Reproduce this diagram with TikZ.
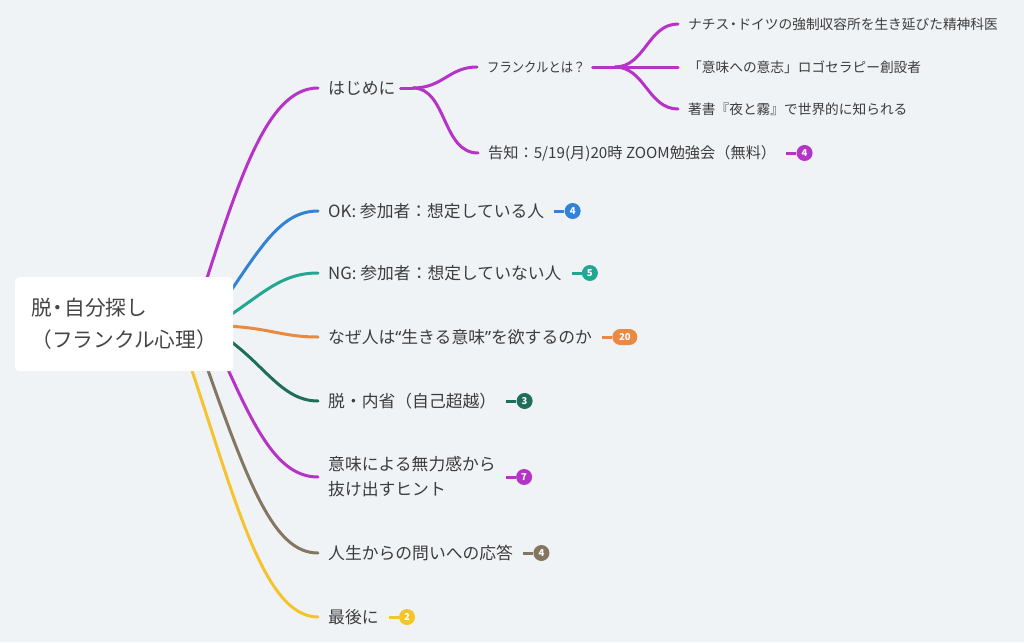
\documentclass[tikz,border=0pt]{standalone}
\usepackage{fontspec}
\setmainfont{Noto Sans CJK JP}
\newfontfamily\latfont{Noto Sans}
\newfontfamily\condfont[FakeStretch=0.9]{Noto Sans CJK JP}
\usetikzlibrary{positioning}
\definecolor{bg}{HTML}{F0F3F6}
\definecolor{txt}{HTML}{3C3C3C}
\definecolor{roottxt}{HTML}{454545}
\definecolor{purp}{HTML}{B633C8}
\definecolor{blu}{HTML}{3283D3}
\definecolor{teal2}{HTML}{22A792}
\definecolor{orng}{HTML}{E98A42}
\definecolor{dgreen}{HTML}{1F6E5C}
\definecolor{brwn}{HTML}{857662}
\definecolor{yell}{HTML}{F3C42E}
\newcommand{\ndot}{\makebox[0.6em]{・}}
\newcommand{\myLq}{{\latfont “}}
\newcommand{\myRq}{{\latfont ”}}
\begin{document}
\begin{tikzpicture}[x=1pt,y=-1pt,
  br/.style={line width=3pt, line cap=round},
  mainlbl/.style={anchor=west, inner xsep=10pt, inner ysep=2pt, font=\fontsize{16.8}{25}\selectfont, text=txt, align=left},
  sublbl/.style={anchor=west, inner xsep=10pt, inner ysep=2pt, font=\fontsize{13.7}{18}\selectfont, text=txt},
  badge/.style={circle, fill=#1, minimum size=16pt, inner sep=0pt, text=white, font=\fontsize{9.5}{9.5}\selectfont\bfseries},
  pill/.style={rectangle, rounded corners=8pt, fill=#1, minimum width=25pt, minimum height=16pt, inner sep=0pt, text=white, font=\fontsize{9.5}{9.5}\selectfont\bfseries},
  blink/.style={line width=3pt}
]
\fill[bg] (0,0) rectangle (1024,642);

% start points of main branches (hidden under root box)
\coordinate (r1) at (200,300);
\coordinate (r2) at (226,298);
\coordinate (r3) at (226,318);
\coordinate (r4) at (226,326);
\coordinate (r5) at (226,338);
\coordinate (r6) at (222,356);
\coordinate (r7) at (203,356);
\coordinate (r8) at (187,356);
\coordinate (f1) at (413,88);
\coordinate (f2) at (615,67);

% labels
\node[mainlbl] (n1) at (318,88) {はじめに};
\node[sublbl, font=\fontsize{13.7}{18}\condfont] (s1) at (477,67) {フランクルとは？};
\node[sublbl, font=\fontsize{15.2}{18}\selectfont] (s2) at (478,153) {告知：5/19(月)20時 ZOOM勉強会（無料）};
\node[sublbl] (t1) at (678,24) {ナチス\ndot ドイツの強制収容所を生き延びた精神科医};
\node[sublbl] (t2) at (678,67) {「意味への意志」ロゴセラピー創設者};
\node[sublbl] (t3) at (678,109) {著書『夜と霧』で世界的に知られる};
\node[mainlbl] (n2) at (318,211) {OK: 参加者：想定している人};
\node[mainlbl] (n3) at (318,273) {NG: 参加者：想定していない人};
\node[mainlbl] (n4) at (318,337) {なぜ人は\myLq 生きる意味\myRq を欲するのか};
\node[mainlbl] (n5) at (318,401) {脱・内省（自己超越）};
\node[mainlbl] (n6) at (318,477) {意味による無力感から\\抜け出すヒント};
\node[mainlbl] (n7) at (318,553) {人生からの問いへの応答};
\node[mainlbl] (n8) at (318,617) {最後に};

% badges
\node[badge=purp, right=10pt of s2] (b0) {4};
\node[badge=blu, right=10pt of n2] (b2) {4};
\node[badge=teal2, right=10pt of n3] (b3) {5};
\node[pill=orng, right=10pt of n4] (b4) {20};
\node[badge=dgreen, right=10pt of n5] (b5) {3};
\node[badge=purp, right=10pt of n6] (b6) {7};
\node[badge=brwn, right=10pt of n7] (b7) {4};
\node[badge=yell, right=10pt of n8] (b8) {2};

% main branches
\draw[br,purp] (r1) .. controls (240,175) and (268,88) .. (n1.west);
\draw[br,blu] (r2) .. controls (262,245) and (282,211) .. (n2.west);
\draw[br,teal2] (r3) .. controls (265,292) and (282,273) .. (n3.west);
\draw[br,orng] (r4) .. controls (270,328) and (282,337) .. (n4.west);
\draw[br,dgreen] (r5) .. controls (265,365) and (282,401) .. (n5.west);
\draw[br,purp] (r6) .. controls (255,430) and (278,477) .. (n6.west);
\draw[br,brwn] (r7) .. controls (250,490) and (275,553) .. (n7.west);
\draw[br,yell] (r8) .. controls (233,490) and (262,617) .. (n8.west);

% sub branches
\draw[br,purp] ([xshift=-5pt]n1.east) -- (f1);
\draw[br,purp] (f1) .. controls (443,88) and (449,67) .. (s1.west);
\draw[br,purp] (f1) .. controls (447,88) and (442,153) .. (s2.west);
\draw[br,purp] ([xshift=-3pt]s1.east) -- (f2);
\draw[br,purp] (f2) .. controls (645,67) and (648,24) .. (t1.west);
\draw[br,purp] (f2) -- (t2.west);
\draw[br,purp] (f2) .. controls (645,67) and (648,109) .. (t3.west);

% badge links
\draw[blink,purp] (s2.east) -- (b0);
\draw[blink,blu] (n2.east) -- (b2);
\draw[blink,teal2] (n3.east) -- (b3);
\draw[blink,orng] (n4.east) -- (b4);
\draw[blink,dgreen] (n5.east) -- (b5);
\draw[blink,purp] (n6.east) -- (b6);
\draw[blink,brwn] (n7.east) -- (b7);
\draw[blink,yell] (n8.east) -- (b8);

% root
\node[fill=white, rounded corners=4pt, minimum width=218pt, minimum height=94pt, anchor=north west, inner sep=0pt, font=\fontsize{20.7}{32}\selectfont, text=roottxt, align=left] (root) at (15,277) {脱\ndot 自分探し\\（フランクル心理）};
\end{tikzpicture}
\end{document}
